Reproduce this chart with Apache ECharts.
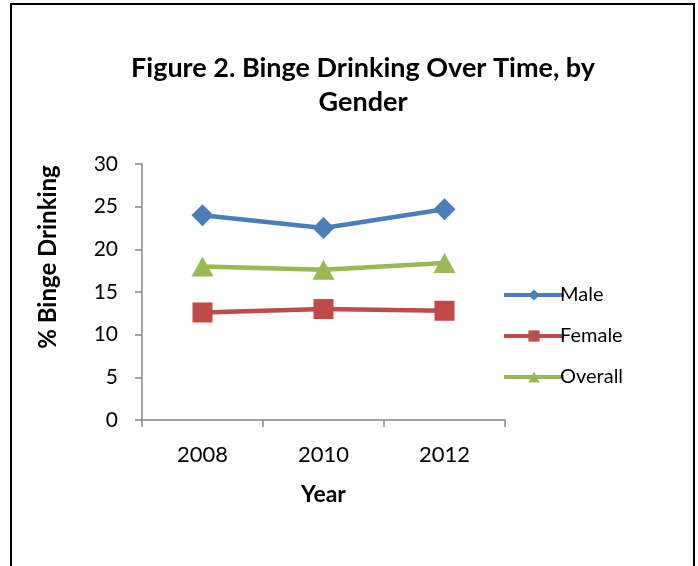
<!DOCTYPE html>
<html>
<head>
<meta charset="utf-8">
<style>
  html, body { margin: 0; padding: 0; background: #fff; }
  #chart { width: 698px; height: 566px; }
</style>
<script src="https://cdn.jsdelivr.net/npm/echarts@6/dist/echarts.min.js"></script>
</head>
<body>
<div id="chart"></div>
<script>
// Survey years and binge drinking rates (%)
const years = ['2008', '2010', '2012'];
const male = [24.0, 22.5, 24.7];
const female = [12.6, 13.0, 12.8];
const overall = [18.0, 17.6, 18.4];
const yTicks = [0, 5, 10, 15, 20, 25, 30];

const FONT = 'Lato, "Open Sans", sans-serif';
const axisGray = '#868686';

const chart = echarts.init(document.getElementById('chart'), null, { renderer: 'canvas' });

function lineSeries(name, data, color, symbol, size) {
  return {
    name: name,
    type: 'line',
    data: data,
    symbol: symbol,
    symbolSize: size,
    showAllSymbol: true,
    lineStyle: { color: color, width: 4.5 },
    itemStyle: { color: color },
    emphasis: { disabled: true },
    animation: false
  };
}

chart.setOption({
  animation: false,
  title: {
    text: 'Figure 2. Binge Drinking Over Time, by\nGender',
    left: 358,
    textAlign: 'center',
    top: 46,
    textStyle: {
      fontFamily: FONT,
      fontWeight: 'bold',
      fontSize: 27,
      lineHeight: 34,
      color: '#000'
    }
  },
  graphic: [{
    type: 'rect',
    shape: { x: 11, y: 4, width: 683, height: 600 },
    style: { fill: 'none', stroke: '#000', lineWidth: 2 },
    silent: true
  }],
  legend: {
    orient: 'vertical',
    left: 497,
    top: 280,
    itemWidth: 60,
    itemHeight: 14,
    itemGap: 21,
    lineStyle: { width: 4 },
    textStyle: {
      fontFamily: FONT, fontSize: 20, lineHeight: 20, color: '#000',
      padding: [0, 0, 0, -9]
    },
    data: ['Male', 'Female', 'Overall']
  },
  grid: { left: 142, top: 164, width: 363, height: 256 },
  xAxis: {
    type: 'category',
    data: years,
    boundaryGap: true,
    name: 'Year',
    nameLocation: 'middle',
    nameGap: 63,
    nameTextStyle: { fontFamily: FONT, fontWeight: 'bold', fontSize: 23, color: '#000' },
    axisLine: { lineStyle: { color: axisGray, width: 1.5 } },
    axisTick: { show: true, length: 7, lineStyle: { color: axisGray, width: 1.5 } },
    axisLabel: { fontFamily: FONT, fontSize: 22, color: '#000', margin: 24 },
    splitLine: { show: false }
  },
  yAxis: {
    type: 'value',
    min: 0,
    max: 30,
    interval: 5,
    name: '% Binge Drinking',
    nameLocation: 'middle',
    nameGap: 82,
    nameRotate: 90,
    nameTextStyle: {
      fontFamily: FONT, fontWeight: 'bold', fontSize: 24, color: '#000',
      padding: [0, 0, 0, 70]
    },
    axisLine: { show: true, lineStyle: { color: axisGray, width: 1.5 } },
    axisTick: { show: true, length: 7, lineStyle: { color: axisGray, width: 1.5 } },
    axisLabel: {
      fontFamily: FONT, fontSize: 21, color: '#000', margin: 24,
      formatter: v => (yTicks.indexOf(v) >= 0 ? String(v) : '')
    },
    splitLine: { show: false }
  },
  series: [
    lineSeries('Male', male, '#4A7EBB', 'diamond', 22),
    lineSeries('Female', female, '#BE4B48', 'rect', 20),
    lineSeries('Overall', overall, '#98B954', 'triangle', [22, 20])
  ]
});
</script>
</body>
</html>
